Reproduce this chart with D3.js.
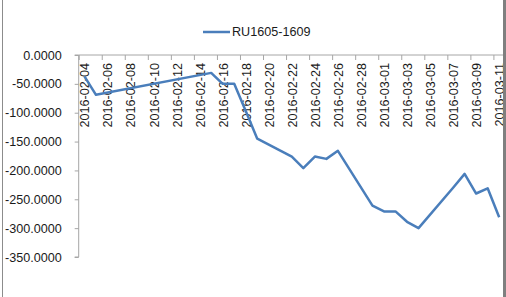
<!DOCTYPE html>
<html>
<head>
<meta charset="utf-8">
<script src="https://cdn.jsdelivr.net/npm/d3@7"></script>
<style>
  body { margin: 0; background: #fff; }
  svg { display: block; font-family: "Liberation Sans", Arial, sans-serif; }
  .axis path, .axis line { stroke: #a6a6a6; }
  .axis text { fill: #1a1a1a; font-size: 12.6px; }
</style>
</head>
<body>
<div class="chart"></div>
<script>
var svgWidth = 506;
var svgHeight = 297;

// trading days
var dates = ["2016-02-04", "2016-02-05", "2016-02-15", "2016-02-16", "2016-02-17",
  "2016-02-18", "2016-02-19", "2016-02-22", "2016-02-23", "2016-02-24", "2016-02-25",
  "2016-02-26", "2016-02-29", "2016-03-01", "2016-03-02", "2016-03-03", "2016-03-04",
  "2016-03-07", "2016-03-08", "2016-03-09", "2016-03-10", "2016-03-11"];
var values = [-37, -69, -31, -50, -50, -97, -145, -176, -196, -176, -180,
  -166, -261, -271, -271, -289, -300, -230, -206, -240, -231, -281];
var seriesName = "RU1605-1609";
var yTicks = [0, -50, -100, -150, -200, -250, -300, -350];

var parse = d3.utcParse("%Y-%m-%d");
var data = dates.map((d, i) => ({ date: parse(d), value: values[i] }));

var dayMs = 864e5;
var first = parse("2016-02-04");
var last = parse("2016-03-11");

var plot = { left: 78.7, top: 55, bottom: 257 };
var dayWidth = 11.52;

var svg = d3.select(".chart")
  .append("svg")
  .attr("width", svgWidth)
  .attr("height", svgHeight);

// date axis, each day gets a slot (labels in the middle, ticks between)
var x = d3.scaleUtc()
  .domain([new Date(+first - dayMs / 2), new Date(+last + dayMs / 2)])
  .range([plot.left, plot.left + 37 * dayWidth]);

var y = d3.scaleLinear()
  .domain([0, -350])
  .range([plot.top, plot.bottom]);

var labelDates = d3.utcDay.range(first, new Date(+last + dayMs), 2);
var tickDates = labelDates.map(d => new Date(+d - dayMs / 2));

// y axis
var leftAxis = d3.axisLeft(y)
  .tickValues(yTicks)
  .tickSize(4)
  .tickPadding(13)
  .tickFormat(d => d.toFixed(4));

svg.append("g")
  .attr("class", "axis yAxis")
  .attr("transform", `translate(${plot.left}, 0)`)
  .call(leftAxis)
  .call(g => g.select(".domain").attr("d", `M-4,${plot.top}H0V${plot.bottom}H-4`));

// x axis at value 0 (top), tick marks
svg.append("g")
  .attr("class", "axis xAxis")
  .attr("transform", `translate(0, ${y(0)})`)
  .call(d3.axisBottom(x).tickValues(tickDates).tickSize(5).tickFormat(""))
  .call(g => g.select(".domain").attr("d", `M${plot.left},0H${svgWidth}`));

// x labels, rotated
svg.append("g")
  .attr("class", "axis xLabels")
  .attr("transform", `translate(0, ${y(0)})`)
  .call(d3.axisBottom(x).tickValues(labelDates).tickSize(0).tickFormat(d3.utcFormat("%Y-%m-%d")))
  .call(g => g.select(".domain").remove())
  .selectAll("text")
  .attr("transform", "rotate(-90)")
  .attr("x", -8)
  .attr("y", 0)
  .attr("dy", "0.35em")
  .attr("text-anchor", "end");

// series line
var line = d3.line()
  .x(d => x(d.date))
  .y(d => y(d.value));

svg.append("path")
  .datum(data)
  .attr("fill", "none")
  .attr("stroke", "#4a7ebb")
  .attr("stroke-width", 2.5)
  .attr("stroke-linejoin", "round")
  .attr("d", line);

// legend
var legend = svg.append("g").attr("transform", "translate(203, 32)");
legend.append("line")
  .attr("x1", 0).attr("x2", 27)
  .attr("stroke", "#4a7ebb")
  .attr("stroke-width", 2.5);
legend.append("text")
  .attr("x", 29)
  .attr("dy", "0.35em")
  .attr("fill", "#1a1a1a")
  .style("font-size", "12.6px")
  .text(seriesName);

// chart border (left edge and right edge of the frame)
svg.append("line")
  .attr("x1", 2.5).attr("x2", 2.5)
  .attr("y1", 0).attr("y2", svgHeight)
  .attr("stroke", "#8c8c8c");
svg.append("rect")
  .attr("x", 503).attr("y", 0)
  .attr("width", 3).attr("height", svgHeight)
  .attr("fill", "#7f7f7f");
</script>
</body>
</html>
